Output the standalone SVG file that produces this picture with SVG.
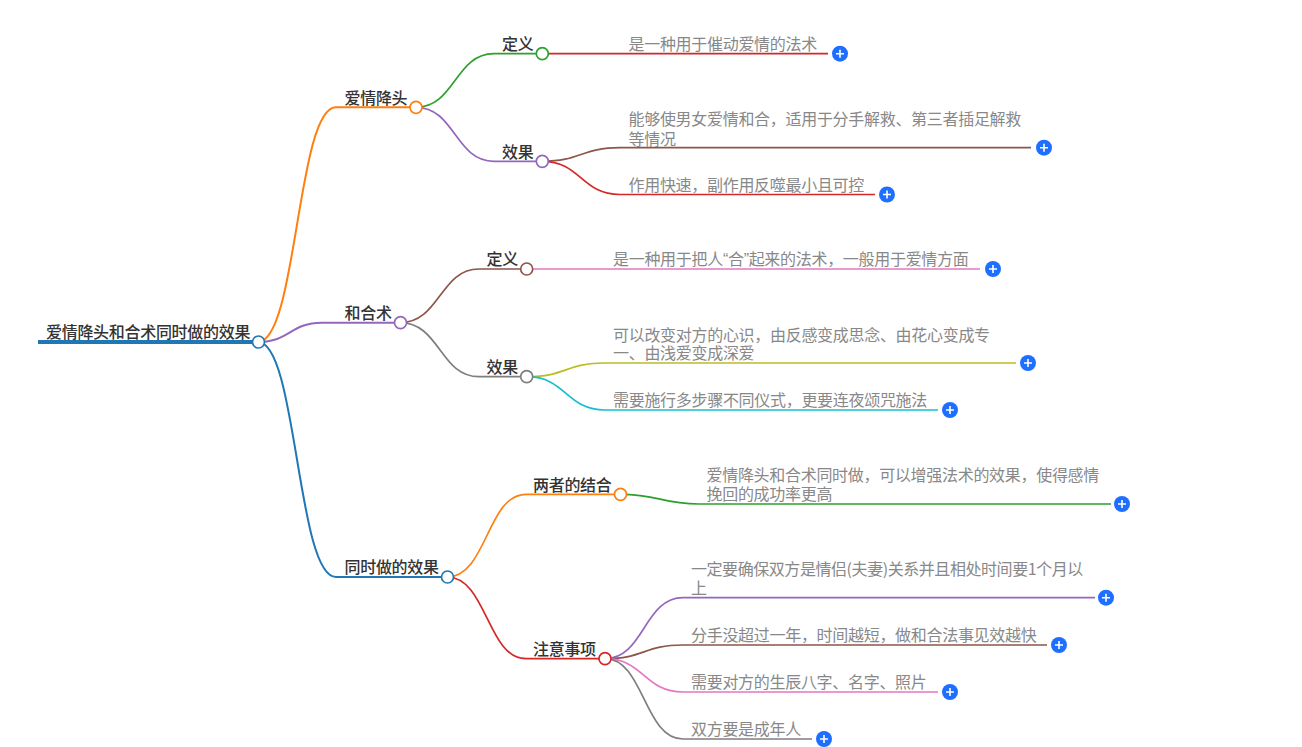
<svg xmlns="http://www.w3.org/2000/svg" width="1302" height="747" viewBox="0 0 1302 747">
<style>
text{font-family:"Noto Sans CJK SC","Noto Sans",sans-serif;font-size:16px;letter-spacing:-.3px}
.t{fill:#333;font-weight:500}
.l{fill:#888}
.q{font-family:"Liberation Sans",sans-serif}
.c path{fill:none;stroke-width:1.7}
circle.n{fill:#fff;stroke-width:1.7}
circle.p{fill:#1e6fff}
path.x{stroke:#fff;stroke-width:1.6;fill:none}
</style>
<defs><g id="plus"><circle class="p" r="8"/><path class="x" d="M-4 0H4M0-4V4"/></g></defs>
<rect width="1302" height="747" fill="#fff"/>
<g id="connectors" class="c">
<path d="M38 342H258" stroke="#1f77b4" style="stroke-width:4"/>
<path d="M258 342C297 342 297 107.3 336 107.3H416" stroke="#ff7f0e" style="stroke-width:2"/>
<path d="M258 342C290 342 290 322.7 322 322.7H400" stroke="#9467bd" style="stroke-width:2"/>
<path d="M258 342C297 342 297 577 336 577H447" stroke="#1f77b4" style="stroke-width:2"/>
<path d="M416 107.3C455 107.3 455 53.7 494 53.7H542" stroke="#2ca02c"/>
<path d="M416 107.3C455 107.3 455 161.3 494 161.3H542" stroke="#9467bd"/>
<path d="M542 53.7H828" stroke="#d62728"/>
<path d="M542 161.3C581 161.3 581 147.7 620 147.7H1031" stroke="#8c564b"/>
<path d="M542 161.3C581 161.3 581 194.5 620 194.5H875" stroke="#d62728"/>
<path d="M400 322.7C440 322.7 440 269 479 269H527" stroke="#8c564b"/>
<path d="M400 322.7C440 322.7 440 376.7 479 376.7H527" stroke="#7f7f7f"/>
<path d="M527 269H980" stroke="#e377c2"/>
<path d="M527 376.7C566 376.7 566 363 605 363H1016" stroke="#bcbd22"/>
<path d="M527 376.7C566 376.7 566 410 605 410H938" stroke="#17becf"/>
<path d="M447 577C487 577 487 494.3 526 494.3H620" stroke="#ff7f0e"/>
<path d="M447 577C487 577 487 658.7 526 658.7H605" stroke="#d62728"/>
<path d="M620 494.3C660 494.3 660 504 699 504H1111" stroke="#2ca02c"/>
<path d="M605 658.7C644 658.7 644 597.7 683 597.7H1095" stroke="#9467bd"/>
<path d="M605 658.7C644 658.7 644 645 683 645H1047" stroke="#8c564b"/>
<path d="M605 658.7C644 658.7 644 692 683 692H938" stroke="#e377c2"/>
<path d="M605 658.7C644 658.7 644 739 683 739H812" stroke="#7f7f7f"/>
</g>
<g id="root"><text class="t" x="46" y="338">爱情降头和合术同时做的效果</text><circle class="n" cx="258.5" cy="342" r="6" stroke="#1f77b4"/></g>
<g id="n1"><text class="t" x="344.5" y="104">爱情降头</text><circle class="n" cx="416" cy="107.3" r="6" stroke="#ff7f0e"/></g>
<g id="n2"><text class="t" x="344.5" y="319">和合术</text><circle class="n" cx="400.5" cy="322.7" r="6" stroke="#9467bd"/></g>
<g id="n3"><text class="t" x="344.5" y="573">同时做的效果</text><circle class="n" cx="447.5" cy="577" r="6" stroke="#1f77b4"/></g>
<g id="n11"><text class="t" x="502" y="50">定义</text><circle class="n" cx="542.3" cy="53.7" r="6" stroke="#2ca02c"/></g>
<g id="n12"><text class="t" x="502" y="158">效果</text><circle class="n" cx="542.3" cy="161.3" r="6" stroke="#9467bd"/></g>
<g id="n21"><text class="t" x="486.5" y="265">定义</text><circle class="n" cx="526.7" cy="269" r="6" stroke="#8c564b"/></g>
<g id="n22"><text class="t" x="486.5" y="373">效果</text><circle class="n" cx="526.7" cy="376.7" r="6" stroke="#7f7f7f"/></g>
<g id="n31"><text class="t" x="533" y="491">两者的结合</text><circle class="n" cx="620.5" cy="494.3" r="6" stroke="#ff7f0e"/></g>
<g id="n32"><text class="t" x="533" y="655">注意事项</text><circle class="n" cx="605" cy="658.7" r="6" stroke="#d62728"/></g>
<g id="l111"><text class="l" x="628.5" y="50">是一种用于催动爱情的法术</text><use href="#plus" x="840" y="53.7"/></g>
<g id="l121"><text class="l" x="628.5" y="125">能够使男女爱情和合，适用于分手解救、第三者插足解救</text><text class="l" x="628.5" y="145">等情况</text><use href="#plus" x="1044" y="147.7"/></g>
<g id="l122"><text class="l" x="628.5" y="191">作用快速，副作用反噬最小且可控</text><use href="#plus" x="887" y="194.5"/></g>
<g id="l211"><text class="l" x="613" y="265">是一种用于把人<tspan class="q">“</tspan>合<tspan class="q">”</tspan>起来的法术，一般用于爱情方面</text><use href="#plus" x="993" y="269"/></g>
<g id="l221"><text class="l" x="613" y="341">可以改变对方的心识，由反感变成思念、由花心变成专</text><text class="l" x="613" y="359">一、由浅爱变成深爱</text><use href="#plus" x="1028" y="363"/></g>
<g id="l222"><text class="l" x="613" y="406">需要施行多步骤不同仪式，更要连夜颂咒施法</text><use href="#plus" x="950" y="410"/></g>
<g id="l311"><text class="l" x="706.5" y="481">爱情降头和合术同时做，可以增强法术的效果，使得感情</text><text class="l" x="706.5" y="500">挽回的成功率更高</text><use href="#plus" x="1122" y="504"/></g>
<g id="l321"><text class="l" x="691" y="575" textLength="392">一定要确保双方是情侣(夫妻)关系并且相处时间要1个月以</text><text class="l" x="691" y="594">上</text><use href="#plus" x="1106" y="597.7"/></g>
<g id="l322"><text class="l" x="691" y="641">分手没超过一年，时间越短，做和合法事见效越快</text><use href="#plus" x="1059" y="645"/></g>
<g id="l323"><text class="l" x="691" y="688">需要对方的生辰八字、名字、照片</text><use href="#plus" x="950" y="692"/></g>
<g id="l324"><text class="l" x="691" y="735">双方要是成年人</text><use href="#plus" x="824" y="739"/></g>
</svg>
